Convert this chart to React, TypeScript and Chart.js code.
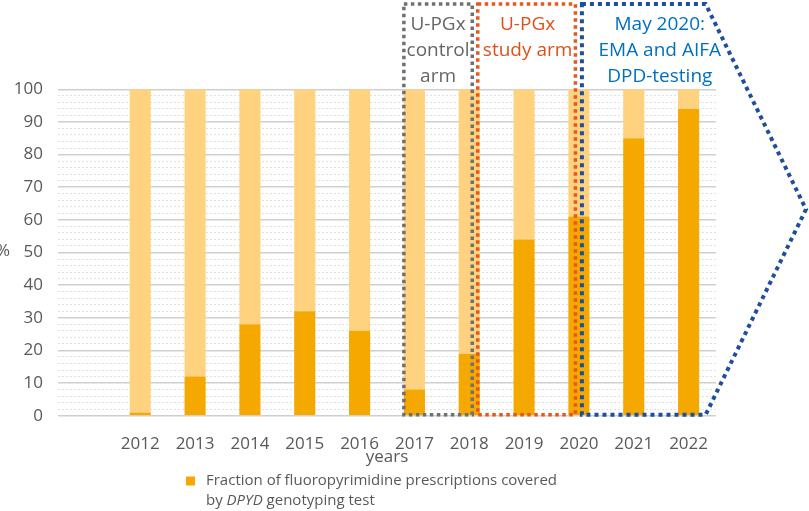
import React, { useEffect, useRef } from 'react';
import Chart from 'chart.js/auto';

const years = ['', '2012', '2013', '2014', '2015', '2016', '2017', '2018', '2019', '2020', '2021', '2022'];
const testedShare = [null, 1, 12, 28, 32, 26, 8, 19, 54, 61, 85, 94];
const untestedShare = [null, 99, 88, 72, 68, 74, 92, 81, 46, 39, 15, 6];

const controlArmText = ['U-PGx', 'control', 'arm'];
const studyArmText = ['U-PGx', 'study arm'];
const emaText = ['May 2020:', 'EMA and AIFA', 'DPD-testing'];

const DARK = '#F5A800';
const LIGHT = '#FFD280';
const TEXT = '#595959';
const FONT = '"Open Sans", sans-serif';

const boxesPlugin = {
    id: 'armBoxes',
    afterDatasetsDraw(chart: any) {
        const { ctx, chartArea, scales: { x, y } } = chart;
        const at = (yr: string) => x.getPixelForValue(years.indexOf(yr));
        const hw = chart.getDatasetMeta(0).data[years.indexOf('2017')].width / 2;
        const top = 4;
        const bottom = y.getPixelForValue(0) - 1;

        ctx.save();
        ctx.lineWidth = 3.5;
        ctx.setLineDash([3.5, 3.5]);

        // control arm
        const gl = at('2017') - hw, gr = at('2018') + 3;
        ctx.strokeStyle = '#707070';
        ctx.strokeRect(gl, top, gr - gl, bottom - top);

        // study arm
        const ol = at('2018') + 8.5, or = at('2020') - 3.5;
        ctx.strokeStyle = '#E8561C';
        ctx.strokeRect(ol, top, or - ol, bottom - top);

        // EMA / AIFA arrow
        const bl = at('2020') + 3, br = at('2022') + hw + 6.5, tip = chartArea.right + 90;
        ctx.strokeStyle = '#1F4E9A';
        ctx.lineWidth = 4;
        ctx.setLineDash([4, 4]);
        ctx.beginPath();
        ctx.moveTo(bl, top);
        ctx.lineTo(br, top);
        ctx.lineTo(tip, (top + bottom) / 2);
        ctx.lineTo(br, bottom);
        ctx.lineTo(bl, bottom);
        ctx.closePath();
        ctx.stroke();

        ctx.setLineDash([]);
        ctx.font = '19px ' + FONT;
        ctx.textAlign = 'center';
        ctx.textBaseline = 'middle';
        const lines = (text: string[], cx: number, color: string) => {
            ctx.fillStyle = color;
            text.forEach((t, i) => ctx.fillText(t, cx, 25 + i * 26));
        };
        lines(controlArmText, (gl + gr) / 2, '#666666');
        lines(studyArmText, (ol + or) / 2 + 1, '#E0501A');
        lines(emaText, (bl + br) / 2 + 16, '#0070C0');
        ctx.restore();
    },
    afterDraw(chart: any) {
        const { ctx } = chart;
        ctx.save();
        // y title, horizontal and partly off the left edge
        ctx.fillStyle = TEXT;
        ctx.font = '17px ' + FONT;
        ctx.textAlign = 'right';
        ctx.textBaseline = 'middle';
        ctx.fillText('%', 10, 251);

        // legend
        ctx.fillStyle = DARK;
        ctx.fillRect(186, 476.5, 9, 9);
        ctx.fillStyle = TEXT;
        ctx.textAlign = 'left';
        ctx.font = '15px ' + FONT;
        ctx.fillText('Fraction of fluoropyrimidine prescriptions covered', 206, 481);
        let cx = 206;
        const parts: [string, boolean][] = [['by ', false], ['DPYD', true], [' genotyping test', false]];
        parts.forEach(([t, it]) => {
            ctx.font = (it ? 'italic ' : '') + '15px ' + FONT;
            ctx.fillText(t, cx, 501);
            cx += ctx.measureText(t).width;
        });
        ctx.restore();
    },
};

const App: React.FC = () => {
    const canvasRef = useRef<HTMLCanvasElement>(null);

    useEffect(() => {
        if (!canvasRef.current) return;
        const chart = new Chart(canvasRef.current, {
            type: 'bar',
            data: {
                labels: years,
                datasets: [
                    { label: 'Fraction of fluoropyrimidine prescriptions covered by DPYD genotyping test', data: testedShare, backgroundColor: DARK },
                    { label: 'not tested', data: untestedShare, backgroundColor: LIGHT },
                ],
            },
            options: {
                responsive: false,
                animation: false,
                layout: { padding: { left: 0, right: 93, top: 89.3, bottom: 0 } },
                datasets: { bar: { barPercentage: 0.385, categoryPercentage: 1 } },
                plugins: { legend: { display: false }, tooltip: { enabled: false } },
                scales: {
                    x: {
                        stacked: true,
                        grid: { display: false },
                        border: { display: false },
                        ticks: { color: TEXT, font: { family: FONT, size: 17 }, padding: 10, maxRotation: 0 },
                        title: { display: true, text: 'years', color: TEXT, font: { family: FONT, size: 17 }, padding: { top: 0, bottom: 43.8 } },
                        afterFit: (s: any) => { s.height = 95.3; },
                    },
                    y: {
                        stacked: true,
                        min: 0,
                        max: 100,
                        border: {
                            display: false,
                            dash: (c: any) => (c.tick && c.tick.value % 10 === 0 ? [] : [2, 2]),
                        },
                        grid: {
                            drawTicks: false,
                            color: (c: any) => (c.tick && c.tick.value % 10 === 0 ? '#D0D0D0' : '#E0E0E0'),
                            lineWidth: (c: any) => (c.tick && c.tick.value % 10 === 0 ? 1.5 : 1),
                        },
                        ticks: {
                            stepSize: 2,
                            autoSkip: false,
                            padding: 15,
                            color: TEXT,
                            font: { family: FONT, size: 17 },
                            callback: (v: any) => (Number(v) % 10 === 0 ? String(v) : ''),
                        },
                        afterFit: (s: any) => { s.width = 58; },
                    },
                },
            },
            plugins: [boxesPlugin],
        });
        return () => chart.destroy();
    }, []);

    return (
        <div style={{ position: 'absolute', left: 0, top: 0, width: 809, height: 511, background: '#fff' }}>
            <canvas ref={canvasRef} width={809} height={511}></canvas>
        </div>
    );
};

export default App;
